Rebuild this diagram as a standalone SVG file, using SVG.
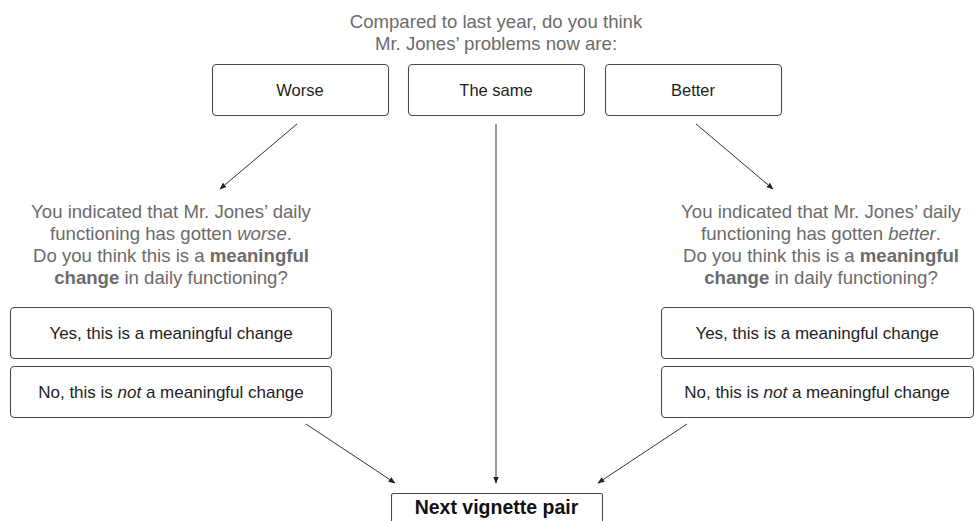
<svg xmlns="http://www.w3.org/2000/svg" width="975" height="521" viewBox="0 0 975 521">
  <style>
    .box { fill: #ffffff; stroke: #4a4a4a; stroke-width: 1.1; }
    .q { font-family: "Liberation Sans", Arial, sans-serif; font-size: 18.6px; fill: #6b6b6b; text-anchor: middle; }
    .top { font-family: "Liberation Sans", Arial, sans-serif; font-size: 16.5px; fill: #1e1e1e; text-anchor: middle; }
    .opt { font-family: "Liberation Sans", Arial, sans-serif; font-size: 17px; fill: #1e1e1e; text-anchor: middle; }
    .next { font-family: "Liberation Sans", Arial, sans-serif; font-size: 19.5px; font-weight: bold; fill: #111111; text-anchor: middle; }
    .b { font-weight: bold; }
    .i { font-style: italic; }
    .edge { stroke: #333333; stroke-width: 1; fill: none; marker-end: url(#arrow); }
  </style>
  <defs>
    <marker id="arrow" viewBox="0 0 10 10" refX="9" refY="5" markerWidth="7" markerHeight="7" orient="auto" markerUnits="userSpaceOnUse">
      <path d="M0,1 L10,5 L0,9 z" fill="#222222"/>
    </marker>
  </defs>
  <rect width="975" height="521" fill="#ffffff"/>

  <g id="question">
    <text class="q" x="496" y="28">Compared to last year, do you think</text>
    <text class="q" x="496" y="50">Mr. Jones’ problems now are:</text>
  </g>

  <g id="worse">
    <rect class="box" x="212.5" y="64.5" width="176" height="51" rx="4"/>
    <text class="top" x="300" y="96">Worse</text>
  </g>
  <g id="same">
    <rect class="box" x="408.5" y="64.5" width="176" height="51" rx="4"/>
    <text class="top" x="496" y="96">The same</text>
  </g>
  <g id="better">
    <rect class="box" x="605.5" y="64.5" width="176" height="51" rx="4"/>
    <text class="top" x="693" y="96">Better</text>
  </g>

  <g id="worse-question">
    <text class="q" x="171" y="218">You indicated that Mr. Jones’ daily</text>
    <text class="q" x="171" y="240">functioning has gotten <tspan class="i">worse</tspan>.</text>
    <text class="q" x="171" y="262">Do you think this is a <tspan class="b">meaningful</tspan></text>
    <text class="q" x="171" y="284"><tspan class="b">change</tspan> in daily functioning?</text>
  </g>
  <g id="worse-yes">
    <rect class="box" x="10.5" y="307.5" width="321" height="51" rx="4"/>
    <text class="opt" x="171" y="339">Yes, this is a meaningful change</text>
  </g>
  <g id="worse-no">
    <rect class="box" x="10.5" y="366.5" width="321" height="51" rx="4"/>
    <text class="opt" x="171" y="398">No, this is <tspan class="i">not</tspan> a meaningful change</text>
  </g>

  <g id="better-question">
    <text class="q" x="821" y="218">You indicated that Mr. Jones’ daily</text>
    <text class="q" x="821" y="240">functioning has gotten <tspan class="i">better</tspan>.</text>
    <text class="q" x="821" y="262">Do you think this is a <tspan class="b">meaningful</tspan></text>
    <text class="q" x="821" y="284"><tspan class="b">change</tspan> in daily functioning?</text>
  </g>
  <g id="better-yes">
    <rect class="box" x="661.5" y="307.5" width="312" height="51" rx="4"/>
    <text class="opt" x="817" y="339">Yes, this is a meaningful change</text>
  </g>
  <g id="better-no">
    <rect class="box" x="661.5" y="366.5" width="312" height="51" rx="4"/>
    <text class="opt" x="817" y="398">No, this is <tspan class="i">not</tspan> a meaningful change</text>
  </g>

  <g id="next">
    <rect class="box" x="391.5" y="493.5" width="211" height="40" rx="2"/>
    <text class="next" x="496.5" y="514">Next vignette pair</text>
  </g>

  <g id="connectors">
    <line class="edge" x1="297" y1="124" x2="220" y2="189"/>
    <line class="edge" x1="696" y1="124" x2="773" y2="189"/>
    <line class="edge" x1="496" y1="124" x2="496" y2="483"/>
    <line class="edge" x1="306" y1="424" x2="395" y2="483"/>
    <line class="edge" x1="687" y1="424" x2="598" y2="483"/>
  </g>
</svg>
